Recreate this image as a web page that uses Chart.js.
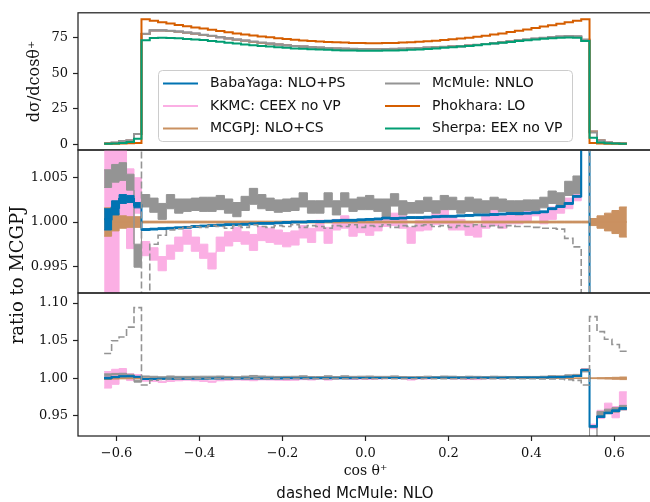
<!DOCTYPE html>
<html>
<head>
<meta charset="utf-8">
<script src="https://cdn.jsdelivr.net/npm/chart.js@4.4.1/dist/chart.umd.min.js"></script>
<style>
html, body { margin: 0; padding: 0; overflow: hidden; background: #fff; }
#wrap { position: relative; width: 654px; height: 502px; }
#wrap canvas { position: absolute; left: 0; top: 0; }
</style>
</head>
<body>
<div id="wrap">
<canvas id="topChart" width="654" height="502"></canvas>
<canvas id="midChart" width="654" height="502"></canvas>
<canvas id="botChart" width="654" height="502"></canvas>
</div>
<script>

/* bin edges in cos(theta+) */
const edges = [-0.63, -0.612, -0.594, -0.576, -0.558,
  -0.54, -0.52, -0.50, -0.48, -0.46, -0.44, -0.42, -0.40, -0.38, -0.36, -0.34, -0.32, -0.30, -0.28,
  -0.26, -0.24, -0.22, -0.20, -0.18, -0.16, -0.14, -0.12, -0.10, -0.08, -0.06, -0.04, -0.02, 0.00,
  0.02, 0.04, 0.06, 0.08, 0.10, 0.12, 0.14, 0.16, 0.18, 0.20, 0.22, 0.24, 0.26, 0.28, 0.30, 0.32,
  0.34, 0.36, 0.38, 0.40, 0.42, 0.44, 0.46, 0.48, 0.50, 0.52, 0.54,
  0.558, 0.576, 0.594, 0.612, 0.63];

const generators = ["BabaYaga: NLO+PS", "KKMC: CEEX no VP", "MCGPJ: NLO+CS",
  "McMule: NNLO", "Phokhara: LO", "Sherpa: EEX no VP"];
const colors = ["#0173b2", "#fbafe4", "#ca9161", "#949494", "#d55e00", "#029e73"];

const xTicks = [-0.6, -0.4, -0.2, 0, 0.2, 0.4, 0.6];
const topTicks = [0, 25, 50, 75];
const midTicks = [0.995, 1.000, 1.005];
const botTicks = [0.95, 1.00, 1.05, 1.10];

/* d sigma / d cos theta+ */
const phokharaTop = [0.3, 0.4, 0.5, 0.7, 0.9,
  88.0, 87.0, 86.0, 85.0, 84.0, 83.1, 82.3, 81.5, 80.6, 79.8,
  78.9, 78.1, 77.3, 76.6, 75.9, 75.3, 74.7, 74.1, 73.6, 73.1,
  72.7, 72.4, 72.1, 71.8, 71.6, 71.4, 71.3, 71.2, 71.2, 71.3,
  71.4, 71.6, 71.9, 72.2, 72.5, 72.9, 73.4, 73.9, 74.5, 75.1,
  75.8, 76.5, 77.3, 78.1, 79.0, 79.9, 80.9, 81.9, 82.9, 83.9,
  84.9, 85.9, 87.0, 88.0,
  0.8, 0.5, 0.4, 0.3, 0.3];

const mcmuleTop = [0.7, 1.0, 2.3, 2.7, 7.2,
  77.9, 80.3, 80.3, 80.0, 79.5, 78.8, 78.0, 77.2, 76.4, 75.5,
  74.6, 73.8, 73.0, 72.3, 71.6, 70.9, 70.3, 69.8, 69.3, 68.9,
  68.5, 68.1, 67.8, 67.5, 67.3, 67.2, 67.1, 67.0, 67.0, 67.1,
  67.2, 67.3, 67.5, 67.8, 68.1, 68.4, 68.6, 68.9, 69.2, 69.6,
  70.1, 70.7, 71.3, 71.9, 72.5, 73.2, 73.8, 74.4, 75.0, 75.5,
  75.9, 76.2, 76.1, 73.8,
  8.3, 2.7, 1.2, 0.8, 0.6];

// BabaYaga, KKMC and MCGPJ sit on top of each other at this scale
const mcgpjTop = [0.7, 1.0, 2.3, 2.7, 7.2,
  77.7, 80.1, 80.1, 79.8, 79.3, 78.6, 77.8, 77.0, 76.2, 75.3,
  74.5, 73.7, 72.9, 72.1, 71.4, 70.8, 70.2, 69.7, 69.2, 68.8,
  68.4, 68.0, 67.7, 67.4, 67.2, 67.1, 67.0, 66.9, 66.9, 67.0,
  67.1, 67.2, 67.4, 67.7, 68.0, 68.3, 68.5, 68.8, 69.1, 69.5,
  70.0, 70.6, 71.2, 71.8, 72.4, 73.1, 73.7, 74.3, 74.8, 75.3,
  75.7, 75.9, 75.8, 73.0,
  9.0, 2.8, 1.25, 0.8, 0.6];

const sherpaTop = [0.3, 0.5, 0.9, 1.5, 3.8,
  73.2, 74.8, 75.0, 74.9, 74.6, 74.2, 73.8, 73.4, 72.8, 72.2,
  71.5, 70.9, 70.3, 69.8, 69.3, 68.8, 68.3, 67.9, 67.5, 67.2,
  66.9, 66.7, 66.5, 66.3, 66.1, 66.0, 65.9, 65.9, 65.9, 66.0,
  66.1, 66.3, 66.5, 66.8, 67.1, 67.5, 67.9, 68.3, 68.8, 69.3,
  69.8, 70.4, 70.9, 71.5, 72.1, 72.7, 73.3, 73.8, 74.3, 74.7,
  75.0, 75.2, 75.1, 72.8,
  4.5, 1.2, 0.7, 0.5, 0.4];

/* ratios to MCGPJ */
const nnloRatio = [1.0049, 1.0055, 1.0057, 1.0045, 0.9962,
  1.0024, 1.0019, 1.0012, 1.0023, 1.0018, 1.0019, 1.0020, 1.0020, 1.0020, 1.0022,
  1.0018, 1.0014, 1.0021, 1.0029, 1.0023, 1.0020, 1.0018, 1.0019, 1.0020, 1.0025,
  1.0017, 1.0017, 1.0025, 1.0016, 1.0025, 1.0019, 1.0021, 1.0022, 1.0019, 1.0016,
  1.0025, 1.0016, 1.0016, 1.0017, 1.0020, 1.0017, 1.0022, 1.0021, 1.0017, 1.0020,
  1.0018, 1.0017, 1.0021, 1.0019, 1.0017, 1.0016, 1.0019, 1.0019, 1.0022, 1.0028,
  1.0026, 1.0038, 1.0042, 1.0105,
  0.910, 0.953, 0.956, 0.958, 0.961];
const nnloErr = [0.0010, 0.0010, 0.0010, 0.0009, 0.0013,
  0.0007, 0.0008, 0.0009, 0.0008, 0.0008, 0.0007, 0.0007, 0.0008, 0.0008, 0.0008,
  0.0008, 0.0008, 0.0008, 0.0009, 0.0008, 0.0007, 0.0007, 0.0007, 0.0007, 0.0008,
  0.0007, 0.0007, 0.0008, 0.0008, 0.0008, 0.0007, 0.0007, 0.0008, 0.0007, 0.0010,
  0.0007, 0.0008, 0.0006, 0.0007, 0.0008, 0.0007, 0.0008, 0.0007, 0.0007, 0.0008,
  0.0008, 0.0007, 0.0007, 0.0007, 0.0007, 0.0008, 0.0006, 0.0006, 0.0006, 0.0007,
  0.0007, 0.0008, 0.0010, 0.0020,
  0.003, 0.003, 0.003, 0.003, 0.003];

const kkmcRatio = [0.998, 1.002, 1.0065, 1.0015, 1.003,
  0.9970, 0.9964, 0.9953, 0.9966, 0.9975, 0.9983, 0.9975, 0.9967, 0.9956, 0.9975,
  0.9981, 0.9986, 0.9982, 0.9977, 0.9987, 0.9985, 0.9983, 0.9980, 0.9982, 0.9989,
  0.9985, 0.9996, 0.9985, 0.9997, 1.0000, 0.9991, 0.9995, 0.9992, 0.9997, 1.0001,
  1.0003, 1.0000, 0.9985, 0.9996, 0.9998, 1.0004, 1.0006, 0.9998, 0.9997, 0.9992,
  0.9990, 1.0000, 1.0005, 1.0000, 1.0006, 1.0005, 1.0008, 1.0013, 1.0005, 1.0010,
  1.0017, 1.0021, 1.0029, 1.0110,
  0.936, 0.952, 0.960, 0.955, 0.970];
const kkmcErr = [0.011, 0.010, 0.0065, 0.0045, 0.002,
  0.0008, 0.0007, 0.0008, 0.0008, 0.0008, 0.0008, 0.0008, 0.0008, 0.0009, 0.0008,
  0.0008, 0.0008, 0.0007, 0.0009, 0.0008, 0.0008, 0.0008, 0.0008, 0.0008, 0.0007,
  0.0008, 0.0006, 0.0009, 0.0006, 0.0007, 0.0007, 0.0007, 0.0007, 0.0007, 0.0006,
  0.0007, 0.0007, 0.0009, 0.0006, 0.0007, 0.0007, 0.0008, 0.0007, 0.0006, 0.0007,
  0.0007, 0.0007, 0.0009, 0.0007, 0.0008, 0.0007, 0.0008, 0.0006, 0.0007, 0.0007,
  0.0007, 0.0006, 0.0005, 0.002,
  0.003, 0.0055, 0.007, 0.0075, 0.012];

const babaRatio = [1.0003, 1.0016, 1.0026, 1.0026, 1.0019,
  0.99915, 0.9992, 0.99925, 0.9993, 0.99935, 0.9994, 0.9995, 0.99955, 0.9996, 0.99965,
  0.9997, 0.9997, 0.99975, 0.9998, 0.99985, 0.99985, 0.9999, 0.99995, 1.0000, 1.0000,
  1.00005, 1.00005, 1.0001, 1.00015, 1.0002, 1.0002, 1.00025, 1.0003, 1.00035, 1.00045,
  1.0004, 1.00045, 1.0005, 1.0005, 1.00055, 1.0006, 1.00065, 1.00065, 1.0007, 1.00075,
  1.0008, 1.0008, 1.00085, 1.0009, 1.00095, 1.00095, 1.0010, 1.00105, 1.00115, 1.0015,
  1.00175, 1.0021, 1.0029, 1.0110,
  0.936, 0.949, 0.954, 0.957, 0.960];
const babaErr = [0.0012, 0.0008, 0.0005, 0.0004, 0.0003,
  0.0001, 0.0001, 0.0001, 0.0001, 0.0001, 0.0001, 0.0001, 0.0001, 0.0001, 0.0001,
  0.0001, 0.0001, 0.0001, 0.0001, 0.0001, 0.0001, 0.0001, 0.0001, 0.0001, 0.0001,
  0.0001, 0.0001, 0.0001, 0.0001, 0.0001, 0.0001, 0.0001, 0.0001, 0.0001, 0.0001,
  0.0001, 0.0001, 0.0001, 0.0001, 0.0001, 0.0001, 0.0001, 0.0001, 0.0001, 0.0001,
  0.0001, 0.0001, 0.0001, 0.0001, 0.0001, 0.0001, 0.0001, 0.0001, 0.0001, 0.0001,
  0.0001, 0.0001, 0.0001, 0.0001,
  0.001, 0.001, 0.001, 0.001, 0.001];

// dashed McMule NLO
const nloRatio = [1.033, 1.050, 1.055, 1.068, 1.094,
  0.9910, 0.9975, 0.9985, 0.9991, 0.99925, 0.9994, 0.9995, 0.9994, 0.9996, 0.9995,
  0.9993, 0.9996, 0.9994, 0.9997, 0.9995, 0.9994, 0.9996, 0.9995, 0.9997, 0.9994,
  0.9996, 0.9995, 0.9993, 0.9996, 0.9995, 0.9997, 0.9994, 0.9996, 0.9995, 0.9997,
  0.9994, 0.9996, 0.9995, 0.9996, 0.9997, 0.9995, 0.9996, 0.9994, 0.9996, 0.9995,
  0.9997, 0.9995, 0.9996, 0.9994, 0.9996, 0.9995, 0.9995, 0.9994, 0.9993, 0.9993,
  0.9992, 0.99815, 0.9972, 0.9910,
  1.082, 1.062, 1.052, 1.045, 1.036];

const mcgpjRatio = [1, 1, 1, 1, 1,
  1, 1, 1, 1, 1, 1, 1, 1, 1, 1, 1, 1, 1, 1, 1, 1, 1, 1, 1, 1, 1, 1, 1, 1, 1, 1, 1, 1, 1, 1,
  1, 1, 1, 1, 1, 1, 1, 1, 1, 1, 1, 1, 1, 1, 1, 1, 1, 1, 1, 1, 1, 1, 1, 1,
  1, 1, 1, 1, 1];
const mcgpjErr = [0.0016, 0.0010, 0.0007, 0.0006, 0.0006,
  0.0001, 0.0001, 0.0001, 0.0001, 0.0001, 0.0001, 0.0001, 0.0001, 0.0001, 0.0001,
  0.0001, 0.0001, 0.0001, 0.0001, 0.0001, 0.0001, 0.0001, 0.0001, 0.0001, 0.0001,
  0.0001, 0.0001, 0.0001, 0.0001, 0.0001, 0.0001, 0.0001, 0.0001, 0.0001, 0.0001,
  0.0001, 0.0001, 0.0001, 0.0001, 0.0001, 0.0001, 0.0001, 0.0001, 0.0001, 0.0001,
  0.0001, 0.0001, 0.0001, 0.0001, 0.0001, 0.0001, 0.0001, 0.0001, 0.0001, 0.0001,
  0.0001, 0.0001, 0.0001, 0.0001,
  0.0004, 0.0007, 0.0010, 0.0013, 0.0017];


const serif = "DejaVu Serif";
const sans = "DejaVu Sans";
const ink = "#111";

function fmt(v, digits) {
  return (v < 0 ? "\u2212" : "") + Math.abs(v).toFixed(digits);
}

/* histogram as step line: one point per left edge, last value repeated at the right edge */
function steps(vals) {
  let pts = vals.map(function (v, i) { return {x: edges[i], y: v}; });
  pts.push({x: edges[edges.length - 1], y: vals[vals.length - 1]});
  return pts;
}

function line(vals, color, width, dash) {
  return {
    data: steps(vals), borderColor: color, borderWidth: width, borderDash: dash || [],
    stepped: true, pointRadius: 0, fill: false
  };
}

function band(vals, errs, color) {
  let hi = vals.map(function (v, i) { return v + errs[i]; });
  let lo = vals.map(function (v, i) { return v - errs[i]; });
  return [
    {data: steps(hi), borderColor: color, backgroundColor: color, borderWidth: 1,
      stepped: true, pointRadius: 0, fill: "+1"},
    {data: steps(lo), borderColor: color, borderWidth: 1, stepped: true, pointRadius: 0, fill: false}
  ];
}

function yAxis(min, max, ticks, digits, title) {
  return {
    min: min, max: max,
    afterFit: function (s) { s.width = 78; },
    afterBuildTicks: function (s) { s.ticks = ticks.map(function (v) { return {value: v}; }); },
    ticks: {
      callback: function (v) { return fmt(v, digits); },
      font: {family: serif, size: 13}, color: ink, padding: 5
    },
    grid: {drawOnChartArea: false, tickLength: 5, tickColor: "#222", tickWidth: 1.2},
    border: {display: false},
    title: title || {display: false}
  };
}

const hiddenX = {type: "linear", min: -0.693, max: 0.693, display: false};

/* box around every panel */
const frame = {
  id: "frame",
  afterDatasetsDraw: function (chart) {
    let ctx = chart.ctx, a = chart.chartArea;
    ctx.save();
    ctx.strokeStyle = "#222";
    ctx.lineWidth = 1.25;
    ctx.strokeRect(a.left, a.top, a.right - a.left, a.bottom - a.top);
    ctx.restore();
  }
};

/* two column legend inside the top panel */
const legendBox = {
  id: "legendBox",
  afterDraw: function (chart) {
    let ctx = chart.ctx;
    ctx.save();
    ctx.fillStyle = "rgba(255,255,255,0.8)";
    ctx.strokeStyle = "#cccccc";
    ctx.lineWidth = 1;
    ctx.beginPath();
    if (ctx.roundRect) ctx.roundRect(158.5, 70.5, 414, 71, 4); else ctx.rect(158.5, 70.5, 414, 71);
    ctx.fill();
    ctx.stroke();
    ctx.font = "14px '" + sans + "'";
    ctx.textBaseline = "middle";
    generators.forEach(function (name, i) {
      let x = i < 3 ? 163 : 385;
      let y = 83.5 + (i % 3) * 22.5;
      ctx.strokeStyle = colors[i];
      ctx.lineWidth = 2;
      ctx.beginPath();
      ctx.moveTo(x, y);
      ctx.lineTo(x + 35, y);
      ctx.stroke();
      ctx.fillStyle = ink;
      ctx.fillText(name, x + 47, y);
    });
    ctx.restore();
  }
};

/* shared ratio label and the note under the x axis */
const extraText = {
  id: "extraText",
  afterDraw: function (chart) {
    let ctx = chart.ctx;
    ctx.save();
    ctx.fillStyle = ink;
    ctx.textAlign = "center";
    ctx.textBaseline = "middle";
    ctx.font = "18px '" + serif + "'";
    ctx.translate(18, 275);
    ctx.rotate(-Math.PI / 2);
    ctx.fillText("ratio to MCGPJ", 0, 0);
    ctx.restore();
    ctx.save();
    ctx.fillStyle = ink;
    ctx.textAlign = "center";
    ctx.textBaseline = "middle";
    ctx.font = "15px '" + sans + "'";
    ctx.fillText("dashed McMule: NLO", 355, 494);
    ctx.restore();
  }
};

function baseOptions(pad, x, y) {
  return {
    responsive: false, animation: false, events: [],
    layout: {padding: pad},
    plugins: {legend: {display: false}, tooltip: {enabled: false}},
    scales: {x: x, y: y}
  };
}

/* datasets listed front to back: Chart.js draws the first one on top */
function ratioSets() {
  return [line(nloRatio, colors[3], 1.6, [7, 3]), line(babaRatio, colors[0], 2)]
    .concat(band(babaRatio, babaErr, colors[0]))
    .concat(band(nnloRatio, nnloErr, colors[3]))
    .concat([line(mcgpjRatio, colors[2], 1.5)])
    .concat(band(mcgpjRatio, mcgpjErr, colors[2]))
    .concat(band(kkmcRatio, kkmcErr, colors[1]));
}

new Chart(document.getElementById("topChart"), {
  type: "line",
  data: {
    datasets: [
      line(sherpaTop, colors[5], 2),
      line(phokharaTop, colors[4], 2),
      line(mcmuleTop, colors[3], 2),
      line(mcgpjTop, colors[2], 2),
      line(mcgpjTop, colors[1], 2),
      line(mcgpjTop, colors[0], 2)
    ]
  },
  options: baseOptions({top: 7, bottom: 352, left: 0, right: 1}, hiddenX,
    yAxis(-4.05, 92.6, topTicks, 0, {
      display: true, text: "d\u03c3/dcos\u03b8\u207a", color: ink,
      font: {family: serif, size: 16}, padding: {top: 25, bottom: 0}
    })),
  plugins: [frame, legendBox]
});

new Chart(document.getElementById("midChart"), {
  type: "line",
  data: {datasets: ratioSets()},
  options: baseOptions({top: 150, bottom: 209, left: 0, right: 1}, hiddenX,
    yAxis(0.99199, 1.00813, midTicks, 3)),
  plugins: [frame]
});

new Chart(document.getElementById("botChart"), {
  type: "line",
  data: {datasets: ratioSets()},
  options: baseOptions({top: 293, bottom: 19, left: 0, right: 1}, {
    type: "linear", min: -0.693, max: 0.693,
    afterFit: function (s) { s.height = 47; },
    afterBuildTicks: function (s) { s.ticks = xTicks.map(function (v) { return {value: v}; }); },
    ticks: {
      callback: function (v) { return fmt(v, 1); },
      font: {family: serif, size: 13}, color: ink, padding: 5, maxRotation: 0, autoSkip: false
    },
    grid: {drawOnChartArea: false, tickLength: 5, tickColor: "#222", tickWidth: 1.2},
    border: {display: false},
    title: {display: true, text: "cos \u03b8\u207a", color: ink,
      font: {family: serif, size: 14}, padding: {top: 0, bottom: 3}}
  }, yAxis(0.9233, 1.1134, botTicks, 2)),
  plugins: [frame, extraText]
});
</script>
</body>
</html>
